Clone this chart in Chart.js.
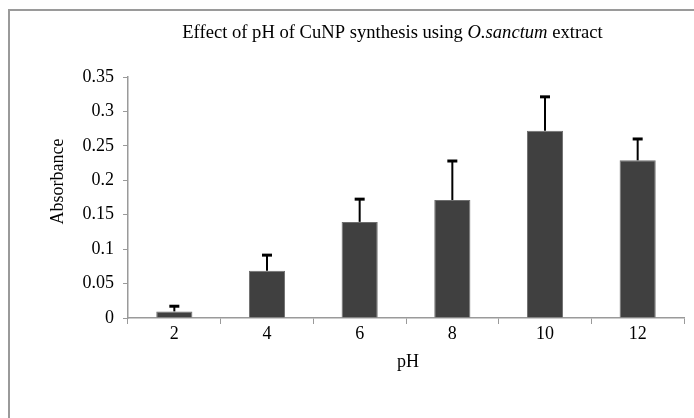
<!DOCTYPE html>
<html>
<head>
<meta charset="utf-8">
<script src="https://cdn.jsdelivr.net/npm/chart.js@4.4.0/dist/chart.umd.min.js"></script>
<style>
  html, body { margin: 0; padding: 0; background: #fff; }
  #wrap { width: 694px; height: 418px; }
</style>
</head>
<body>
<div id="wrap"><canvas id="phChart"></canvas></div>
<script>
// values
const categories = ['2', '4', '6', '8', '10', '12'];
const absorbance = [0.0096, 0.0686, 0.1396, 0.1714, 0.2719, 0.229];
const errors = [0.0075, 0.0227, 0.033, 0.0566, 0.0493, 0.031];
const yTickLabels = ['0', '0.05', '0.1', '0.15', '0.2', '0.25', '0.3', '0.35'];

const serif = 'Liberation Serif';

// frame, title (with italic species name) and axis titles
const decorPlugin = {
  id: 'decor',
  beforeDraw(chart) {
    const ctx = chart.ctx;
    ctx.save();
    ctx.fillStyle = '#fff';
    ctx.fillRect(0, 0, chart.width, chart.height);
    ctx.strokeStyle = '#9a9a9a';
    ctx.lineWidth = 2;
    ctx.strokeRect(9, 10, 900, 900);
    ctx.restore();
  },
  afterDraw(chart) {
    const ctx = chart.ctx;
    ctx.save();
    ctx.fillStyle = '#000';
    ctx.textBaseline = 'alphabetic';

    // title
    const parts = [
      ['Effect of pH of CuNP synthesis using ', 'normal'],
      ['O.sanctum', 'italic'],
      [' extract', 'normal']
    ];
    let total = 0;
    parts.forEach(p => {
      ctx.font = p[1] + ' 18.6px "' + serif + '"';
      total += ctx.measureText(p[0]).width;
    });
    let x = 392.5 - total / 2;
    parts.forEach(p => {
      ctx.font = p[1] + ' 18.6px "' + serif + '"';
      ctx.textAlign = 'left';
      ctx.fillText(p[0], x, 38);
      x += ctx.measureText(p[0]).width;
    });

    // x axis title
    ctx.font = '18px "' + serif + '"';
    ctx.textAlign = 'center';
    const area = chart.chartArea;
    ctx.fillText('pH', (area.left + area.right) / 2 + 2, 367);

    // y axis title
    ctx.translate(63, 181.5);
    ctx.rotate(-Math.PI / 2);
    ctx.fillText('Absorbance', 0, 0);
    ctx.restore();
  }
};

// upward error bars with caps
const errorBarPlugin = {
  id: 'errorBars',
  afterDatasetsDraw(chart) {
    const ctx = chart.ctx;
    const yScale = chart.scales.y;
    const meta = chart.getDatasetMeta(0);
    ctx.save();
    ctx.strokeStyle = '#000';
    meta.data.forEach((bar, i) => {
      const yTop = yScale.getPixelForValue(absorbance[i] + errors[i]);
      const yBase = yScale.getPixelForValue(absorbance[i]);
      ctx.lineWidth = 2;
      ctx.beginPath();
      ctx.moveTo(bar.x, yBase);
      ctx.lineTo(bar.x, yTop);
      ctx.stroke();
      ctx.lineWidth = 3;
      ctx.beginPath();
      ctx.moveTo(bar.x - 5, yTop);
      ctx.lineTo(bar.x + 5, yTop);
      ctx.stroke();
    });
    ctx.restore();
  }
};

new Chart(document.getElementById('phChart'), {
  type: 'bar',
  data: {
    labels: categories,
    datasets: [{
      data: absorbance,
      backgroundColor: '#404040',
      borderColor: '#6e6e6e',
      borderWidth: 1,
      categoryPercentage: 1.0,
      barPercentage: 0.39
    }]
  },
  options: {
    responsive: true,
    maintainAspectRatio: false,
    animation: false,
    layout: { padding: { top: 77, right: 10, left: 0, bottom: 0 } },
    plugins: {
      legend: { display: false },
      title: { display: false },
      tooltip: { enabled: false }
    },
    scales: {
      x: {
        grid: {
          display: true,
          drawOnChartArea: false,
          drawTicks: true,
          tickLength: 6,
          color: '#9a9a9a',
          offset: true
        },
        border: { color: '#9a9a9a', width: 1.5 },
        ticks: {
          color: '#000',
          padding: -1,
          font: { family: serif, size: 18 }
        },
        afterFit(scale) { scale.height = 100; }
      },
      y: {
        min: 0,
        max: 0.35,
        grid: {
          display: true,
          drawOnChartArea: false,
          drawTicks: true,
          tickLength: 5,
          color: '#9a9a9a'
        },
        border: { color: '#9a9a9a', width: 1.5 },
        ticks: {
          stepSize: 0.05,
          color: '#000',
          padding: 9,
          font: { family: serif, size: 18 },
          callback: (v, i) => yTickLabels[i]
        },
        afterFit(scale) { scale.width = 128; }
      }
    }
  },
  plugins: [decorPlugin, errorBarPlugin]
});
</script>
</body>
</html>
